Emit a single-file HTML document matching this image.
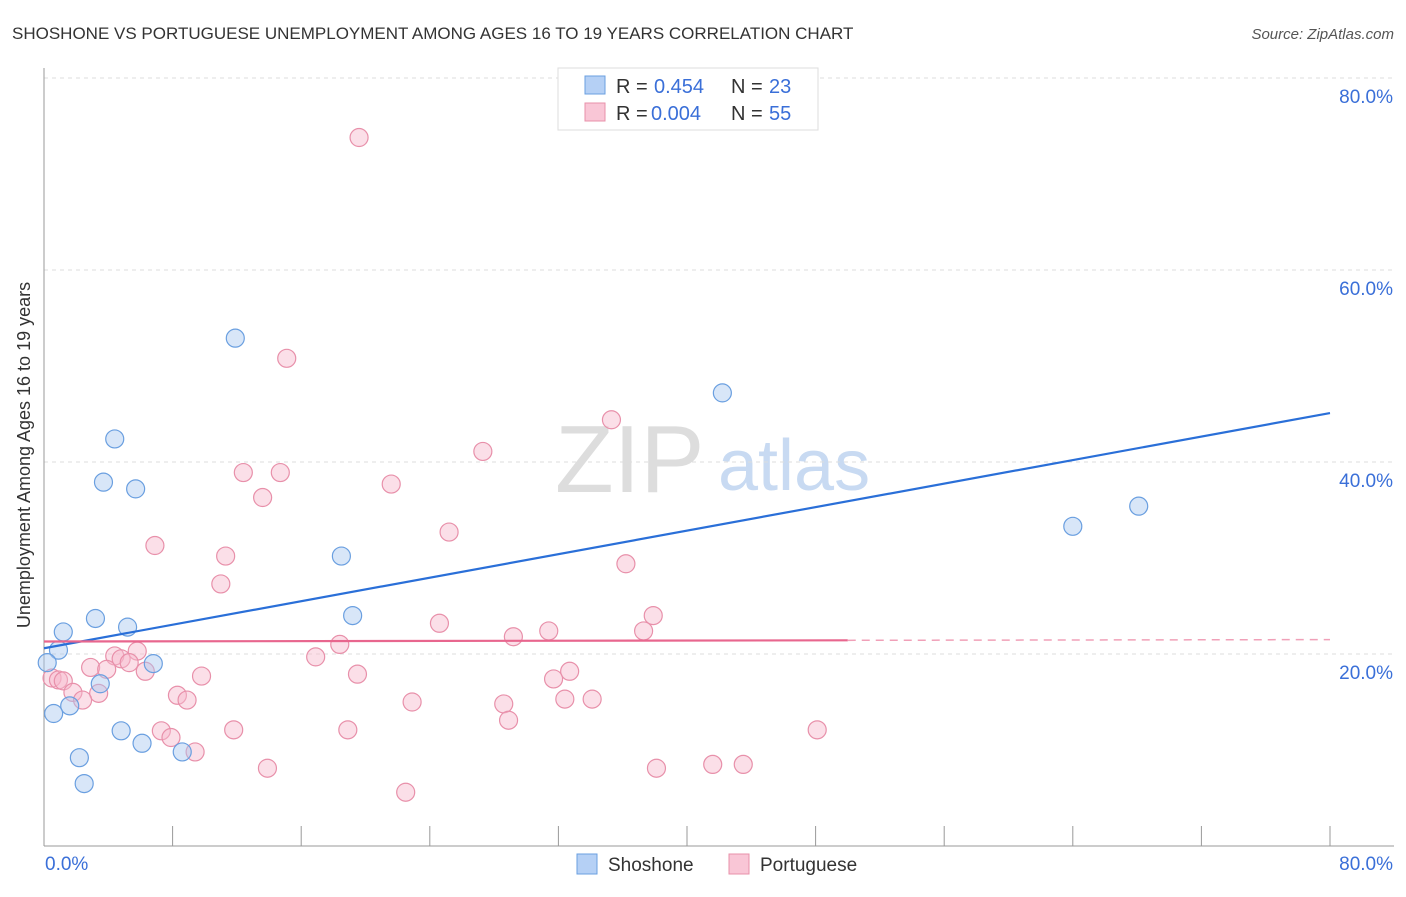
<!DOCTYPE html>
<html><head><meta charset="utf-8"><style>
body{margin:0;background:#fff;font-family:"Liberation Sans",sans-serif;}
svg text{font-family:"Liberation Sans",sans-serif;}
</style></head><body>
<svg id="c" width="1406" height="892">
<text x="12" y="39" font-size="17" fill="#333">SHOSHONE VS PORTUGUESE UNEMPLOYMENT AMONG AGES 16 TO 19 YEARS CORRELATION CHART</text>
<text x="1394" y="39" font-size="15" fill="#555" font-style="italic" text-anchor="end">Source: ZipAtlas.com</text>
<text x="30" y="455" font-size="18" fill="#333" text-anchor="middle" transform="rotate(-90 30 455)">Unemployment Among Ages 16 to 19 years</text>
<text x="555" y="492" font-size="96" fill="#ddd" font-family="Liberation Serif">ZIP</text>
<text x="718" y="490" font-size="72" fill="#c8daf2">atlas</text>
<g id="grid"></g><g id="pts"></g><g id="lines"></g>
<g>
<rect x="558" y="68" width="260" height="62" fill="#fff" stroke="#ddd"/>
<rect x="585" y="76" width="20" height="18" fill="#b5d0f5" stroke="#6a9fe0"/>
<text x="616" y="93" font-size="20" fill="#333">R =</text>
<text x="654" y="93" font-size="20" fill="#3a6fd8">0.454</text>
<text x="731" y="93" font-size="20" fill="#333">N =</text>
<text x="769" y="93" font-size="20" fill="#3a6fd8">23</text>
<rect x="585" y="103" width="20" height="18" fill="#f9c6d6" stroke="#e890aa"/>
<text x="616" y="120" font-size="20" fill="#333">R =</text>
<text x="651" y="120" font-size="20" fill="#3a6fd8">0.004</text>
<text x="731" y="120" font-size="20" fill="#333">N =</text>
<text x="769" y="120" font-size="20" fill="#3a6fd8">55</text>
</g>
<g>
<rect x="577" y="854" width="20" height="20" fill="#b5d0f5" stroke="#6a9fe0"/>
<text x="608" y="871" font-size="19" fill="#333">Shoshone</text>
<rect x="729" y="854" width="20" height="20" fill="#f9c6d6" stroke="#e890aa"/>
<text x="760" y="871" font-size="19" fill="#333">Portuguese</text>
</g>
</svg>
<script>
const yTicks=[20,40,60,80];
const xTickLabels=["0.0%","80.0%"];
const shoX=[11.9,42.2,4.4,3.7,5.7,64.0,68.1,18.5,3.2,5.2,19.2,1.2,0.9,0.2,6.8,3.5,1.6,0.6,4.8,6.1,8.6,2.2,2.5];
const shoY=[52.9,47.2,42.4,37.9,37.2,33.3,35.4,30.2,23.7,22.8,24.0,22.3,20.4,19.1,19.0,16.9,14.6,13.8,12.0,10.7,9.8,9.2,6.5];
const porX=[19.6,15.1,35.3,27.3,12.4,14.7,21.6,13.6,25.2,6.9,11.3,36.2,11.0,37.9,24.6,31.4,37.3,29.2,18.4,5.8,4.4,4.8,5.3,16.9,2.9,3.9,6.3,32.7,19.5,9.8,31.7,0.5,0.9,1.2,1.8,3.4,8.3,2.4,8.9,22.9,28.6,32.4,34.1,28.9,7.3,11.8,18.9,48.1,7.9,9.4,13.9,38.1,41.6,43.5,22.5];
const porY=[73.8,50.8,44.4,41.1,38.9,38.9,37.7,36.3,32.7,31.3,30.2,29.4,27.3,24.0,23.2,22.4,22.4,21.8,21.0,20.3,19.8,19.5,19.1,19.7,18.6,18.4,18.2,18.2,17.9,17.7,17.4,17.5,17.3,17.2,16.0,15.9,15.7,15.2,15.2,15.0,14.8,15.3,15.3,13.1,12.0,12.1,12.1,12.1,11.3,9.8,8.1,8.1,8.5,8.5,5.6];
const shoTrend=[20.6,45.1];
const porTrend=[21.3,21.5];
const X=v=>44+v*16.075, Y=v=>846-v*9.6;
const NS="http://www.w3.org/2000/svg";
function mk(t,a,p){const e=document.createElementNS(NS,t);for(const k in a)e.setAttribute(k,a[k]);p.appendChild(e);return e;}
const g=document.getElementById('grid');
yTicks.forEach(t=>{
 const l=mk('line',{x1:44,x2:1394,y1:Y(t),y2:Y(t),stroke:'#ddd','stroke-dasharray':'4,4'},g);
 
 
 const tx=mk('text',{x:1393,y:Y(t)+25,'font-size':19,fill:'#3a6fd8','text-anchor':'end'},g);tx.textContent=t.toFixed(1)+'%';
 
 
});
mk('line',{x1:44,x2:44,y1:68,y2:846,stroke:'#999'},g);
mk('line',{x1:44,x2:1394,y1:846,y2:846,stroke:'#999'},g);
for(let i=0;i<=10;i++){mk('line',{x1:X(i*8),x2:X(i*8),y1:826,y2:846,stroke:'#999'},g);}
const xl=mk('text',{x:45,y:870,'font-size':19,fill:'#3a6fd8'},g);xl.textContent=xTickLabels[0];


const xr=mk('text',{x:1393,y:870,'font-size':19,fill:'#3a6fd8','text-anchor':'end'},g);xr.textContent=xTickLabels[1];


const p=document.getElementById('pts');
porX.forEach((x,i)=>{const c=mk('circle',{cx:X(x),cy:Y(porY[i]),r:9,fill:'rgba(246,184,204,0.45)',stroke:'#e890aa','stroke-width':1.2},p);
 
 });
shoX.forEach((x,i)=>{const c=mk('circle',{cx:X(x),cy:Y(shoY[i]),r:9,fill:'rgba(168,200,240,0.45)',stroke:'#6a9fe0','stroke-width':1.2},p);
 
 });
const L=document.getElementById('lines');
const b=mk('line',{x1:X(0),y1:Y(shoTrend[0]),x2:X(80),y2:Y(shoTrend[1]),stroke:'#2a6fd8','stroke-width':2.2},L);


const pm=porTrend[0]+(porTrend[1]-porTrend[0])*50/80;
const r1=mk('line',{x1:X(0),y1:Y(porTrend[0]),x2:X(50),y2:Y(pm),stroke:'#e8668e','stroke-width':2.2},L);


const r2=mk('line',{x1:X(50),y1:Y(pm),x2:X(80),y2:Y(porTrend[1]),stroke:'#f0a0b8','stroke-width':1.5,'stroke-dasharray':'8,6'},L);


</script>
</body></html>
